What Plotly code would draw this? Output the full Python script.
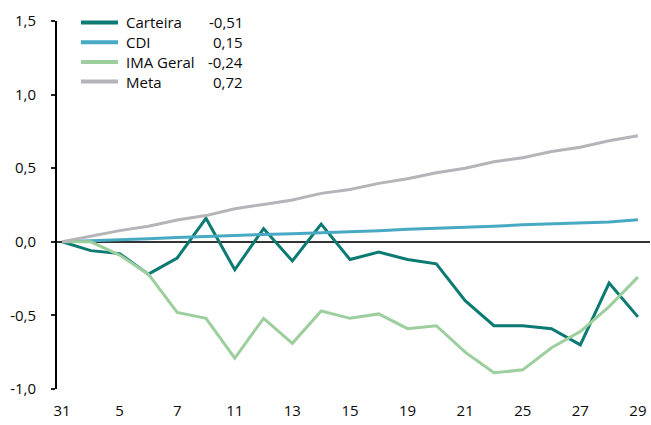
import plotly.graph_objects as go

dias = ["31", "4", "5", "6", "7", "8", "11", "12", "13", "14", "15",
        "18", "19", "20", "21", "22", "25", "26", "27", "28", "29"]

carteira = [0.00, -0.06, -0.08, -0.22, -0.11, 0.16, -0.19, 0.09, -0.13, 0.12, -0.12,
            -0.07, -0.12, -0.15, -0.40, -0.57, -0.57, -0.59, -0.70, -0.28, -0.51]
cdi = [0.00, 0.005, 0.015, 0.02, 0.03, 0.035, 0.045, 0.05, 0.055, 0.06, 0.07,
       0.075, 0.085, 0.09, 0.10, 0.105, 0.115, 0.12, 0.13, 0.135, 0.15]
ima_geral = [0.00, 0.00, -0.09, -0.22, -0.48, -0.52, -0.79, -0.52, -0.69, -0.47, -0.52,
             -0.49, -0.59, -0.57, -0.75, -0.89, -0.87, -0.72, -0.61, -0.44, -0.24]
meta = [0.00, 0.036, 0.076, 0.105, 0.148, 0.178, 0.225, 0.254, 0.284, 0.329, 0.356,
        0.397, 0.428, 0.469, 0.50, 0.544, 0.571, 0.613, 0.643, 0.686, 0.72]

series_names = ["Carteira", "CDI", "IMA Geral", "Meta"]
series_values = [carteira, cdi, ima_geral, meta]
series_colors = ["#0b7a72", "#48a9c2", "#9ccf9d", "#b4b4b9"]

y_tick_vals = [-1.0, -0.5, 0.0, 0.5, 1.0, 1.5]
y_tick_text = ["-1,0", "-0,5", "0,0", "0,5", "1,0", "1,5"]
x_tick_vals = dias[::2]

FONT = "Open Sans"
TXT = "#0a0a0a"

W, H = 651, 425
ML, MR, MT, MB = 57, 1, 21, 36
PW, PH = W - ML - MR, H - MT - MB


def px_x(p):
    return (p - ML) / PW


def px_y(p):
    return 1 - (p - MT) / PH


def fmt(v):
    return f"{v:.2f}".replace(".", ",")


fig = go.Figure()
for name, vals, color in zip(series_names, series_values, series_colors):
    fig.add_trace(go.Scatter(x=dias, y=vals, mode="lines", name=name,
                             line=dict(color=color, width=3), showlegend=False))

# manual legend (swatch + name + last value)
legend_rows = [22.5, 42.3, 62.0, 81.5]
for name, vals, color, ry in zip(series_names, series_values, series_colors, legend_rows):
    yy = px_y(ry)
    fig.add_shape(type="line", xref="paper", yref="paper", x0=px_x(81), x1=px_x(118),
                  y0=yy, y1=yy, line=dict(color=color, width=4))
    fig.add_annotation(xref="paper", yref="paper", x=px_x(124), y=yy, text=name,
                       showarrow=False, xanchor="left", yanchor="middle",
                       font=dict(family=FONT, size=15, color=TXT))
    fig.add_annotation(xref="paper", yref="paper", x=px_x(245), y=yy, text=fmt(vals[-1]),
                       showarrow=False, xanchor="right", yanchor="middle",
                       font=dict(family=FONT, size=15, color=TXT))

fig.update_layout(
    width=W, height=H,
    margin=dict(l=ML, r=MR, t=MT, b=MB, autoexpand=False),
    paper_bgcolor="white", plot_bgcolor="white",
    font=dict(family=FONT, size=15, color=TXT),
    showlegend=False,
)
fig.update_xaxes(type="category", range=[-0.174, 20.42], showgrid=False,
                 showline=False, ticks="", tickmode="array", tickvals=x_tick_vals,
                 ticktext=x_tick_vals, zeroline=False, automargin=False,
                 ticklabelstandoff=11, tickfont=dict(size=15, color=TXT))
fig.update_yaxes(range=[-1.0, 1.5], showgrid=False, showline=True, linecolor="black",
                 linewidth=2, ticks="outside", ticklen=4, tickwidth=2, tickcolor="#222",
                 tickmode="array", tickvals=y_tick_vals, ticktext=y_tick_text,
                 zeroline=True, zerolinecolor="#333", zerolinewidth=2, automargin=False,
                 ticklabelstandoff=12, tickfont=dict(size=15, color=TXT))

fig.write_html("out.html", config={"displayModeBar": False},
               post_script="document.body.style.margin='0';document.body.style.padding='0';")
